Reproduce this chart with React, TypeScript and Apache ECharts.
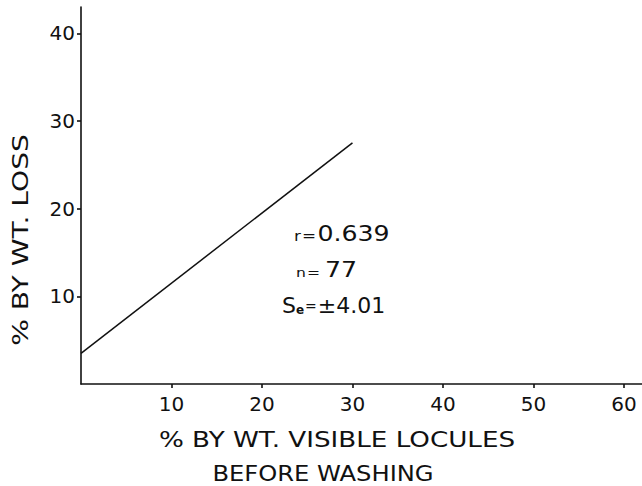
import React, { useEffect, useRef } from "react";
import * as echarts from "echarts";

// Regression line endpoints (x: % visible locules, y: % weight loss)
const lineX = [0, 30];
const lineY = [3.5, 27.5];

// Axis ticks / labels
const xTickValues = [10, 20, 30, 40, 50, 60];
const yTickValues = [10, 20, 30, 40];
const xAxisMax = 62;
const yAxisMax = 43;

// Titles and statistics
const xTitleLine1 = "% BY WT. VISIBLE LOCULES";
const xTitleLine2 = "BEFORE WASHING";
const yTitle = "% BY WT. LOSS";
const statR = "0.639";
const statN = "77";
const statSe = "±4.01";

const FONT = "DejaVu Sans";
const INK = "#111111";

export default function App() {
  const ref = useRef<HTMLDivElement>(null);

  useEffect(() => {
    if (!ref.current) return;
    const chart = echarts.init(ref.current, undefined, { renderer: "svg" });
    const lineData = lineX.map((x, i) => [x, lineY[i]]);

    chart.setOption({
      animation: false,
      backgroundColor: "#ffffff",
      grid: { left: 81, right: 0, top: 7, bottom: 102, containLabel: false },
      xAxis: {
        type: "value",
        min: 0,
        max: xAxisMax,
        splitLine: { show: false },
        axisLine: { show: true, onZero: false, lineStyle: { color: INK, width: 1.6 } },
        axisTick: {
          show: true,
          customValues: xTickValues,
          length: 4,
          lineStyle: { color: INK, width: 1.6 },
        },
        axisLabel: {
          customValues: xTickValues,
          margin: 10,
          color: INK,
          fontFamily: FONT,
          fontSize: 20,
        },
      },
      yAxis: {
        type: "value",
        min: 0,
        max: yAxisMax,
        splitLine: { show: false },
        axisLine: { show: true, onZero: false, lineStyle: { color: INK, width: 1.6 } },
        axisTick: {
          show: true,
          customValues: yTickValues,
          length: 4,
          lineStyle: { color: INK, width: 1.6 },
        },
        axisLabel: {
          customValues: yTickValues,
          margin: 6,
          color: INK,
          fontFamily: FONT,
          fontSize: 20,
        },
      },
      series: [
        {
          type: "line",
          data: lineData,
          showSymbol: false,
          symbol: "none",
          lineStyle: { color: INK, width: 1.5 },
          silent: true,
        },
      ],
      graphic: [
        {
          type: "text",
          x: 21,
          y: 240,
          rotation: Math.PI / 2,
          scaleX: 1.28,
          style: {
            text: yTitle,
            fill: INK,
            font: `22px "${FONT}"`,
            textAlign: "center",
            textVerticalAlign: "middle",
          },
        },
        {
          type: "text",
          x: 337,
          y: 440,
          scaleX: 1.19,
          style: {
            text: xTitleLine1,
            fill: INK,
            font: `22px "${FONT}"`,
            textAlign: "center",
            textVerticalAlign: "middle",
          },
        },
        {
          type: "text",
          x: 323,
          y: 473,
          scaleX: 1.1,
          style: {
            text: xTitleLine2,
            fill: INK,
            font: `22px "${FONT}"`,
            textAlign: "center",
            textVerticalAlign: "middle",
          },
        },
        {
          type: "text",
          x: 294,
          y: 232,
          scaleX: 1.2,
          style: {
            text: `{s|r}{s|=}{b|${statR}}`,
            textVerticalAlign: "middle",
            rich: {
              s: { fontFamily: FONT, fontSize: 14, fill: INK, lineHeight: 24, verticalAlign: "bottom", padding: [0, 1, 1, 0] },
              b: { fontFamily: FONT, fontSize: 21, fill: INK, lineHeight: 24, verticalAlign: "bottom" },
            },
          },
        },
        {
          type: "text",
          x: 296,
          y: 268,
          scaleX: 1.2,
          style: {
            text: `{s|n}{s|=}{b|${statN}}`,
            textVerticalAlign: "middle",
            rich: {
              s: { fontFamily: FONT, fontSize: 13, fill: INK, lineHeight: 24, verticalAlign: "bottom", padding: [0, 1, 1, 0] },
              b: { fontFamily: FONT, fontSize: 21, fill: INK, lineHeight: 24, verticalAlign: "bottom", padding: [0, 0, 0, 3] },
            },
          },
        },
        {
          type: "text",
          x: 282,
          y: 303,
          style: {
            text: `{b|S}{sub|e}{s|=}{b|${statSe}}`,
            textVerticalAlign: "middle",
            rich: {
              b: { fontFamily: FONT, fontSize: 22, fill: INK, lineHeight: 26, verticalAlign: "bottom" },
              sub: { fontFamily: FONT, fontSize: 12, fontWeight: "bold", fill: INK, lineHeight: 26, verticalAlign: "bottom", padding: [0, 1, 0, 0] },
              s: { fontFamily: FONT, fontSize: 14, fill: INK, lineHeight: 26, verticalAlign: "bottom", padding: [0, 1, 3, 0] },
            },
          },
        },
      ],
    });

    return () => chart.dispose();
  }, []);

  return (
    <div
      ref={ref}
      style={{ position: "absolute", left: 0, top: 0, width: 642, height: 486, background: "#fff" }}
    />
  );
}
